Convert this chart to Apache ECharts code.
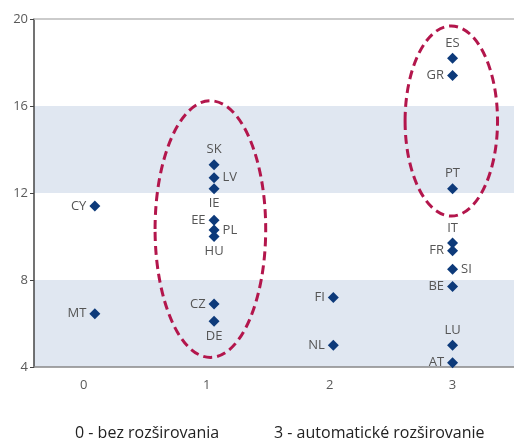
<!DOCTYPE html>
<html>
<head>
<meta charset="utf-8">
<script src="https://cdn.jsdelivr.net/npm/echarts@6/dist/echarts.min.js"></script>
<style>
html, body { margin: 0; padding: 0; background: #fff; }
#chart { width: 514px; height: 443px; }
</style>
</head>
<body>
<div id="chart"></div>
<script>
// krajiny, skupina (x) a hodnota (y)
var names = ['CY', 'MT', 'SK', 'LV', 'IE', 'EE', 'PL', 'HU', 'CZ', 'DE', 'FI', 'NL', 'ES', 'GR', 'PT', 'IT', 'FR', 'SI', 'BE', 'LU', 'AT'];
var xs = [0.09, 0.09, 1.06, 1.06, 1.06, 1.06, 1.06, 1.06, 1.06, 1.06, 2.03, 2.03, 3, 3, 3, 3, 3, 3, 3, 3, 3];
var ys = [11.4, 6.45, 13.3, 12.7, 12.2, 10.75, 10.3, 10.0, 6.9, 6.1, 7.2, 5.0, 18.2, 17.4, 12.2, 9.7, 9.35, 8.5, 7.7, 5.0, 4.2];
var labelPos = ['left', 'left', 'top', 'right', 'bottom', 'left', 'right', 'bottom', 'left', 'bottom', 'left', 'left', 'top', 'left', 'top', 'top', 'left', 'right', 'left', 'top', 'left'];
var xTicks = [0, 1, 2, 3];
// oválne zvýraznenia: [stred x, stred y, polomer x, polomer y]
var ovals = [[1.03, 10.34, 0.45, 5.9], [2.99, 15.31, 0.376, 4.37]];
var legendTexts = ['0 - bez rozširovania', '3 - automatické rozširovanie'];

var points = [];
for (var i = 0; i < names.length; i++) {
	points.push({
		name: names[i],
		value: [xs[i], ys[i]],
		label: { position: labelPos[i] }
	});
}

var font = '"Open Sans", "Noto Sans", sans-serif';

var option = {
	animation: false,
	grid: { left: 34, top: 19, width: 482, height: 348 },
	xAxis: [{
		type: 'value',
		min: -0.405,
		max: 3.5,
		axisLine: { show: true, lineStyle: { color: '#888', width: 1.5 } },
		axisTick: { show: false },
		splitLine: { show: false },
		axisLabel: {
			customValues: xTicks,
			color: '#595959',
			fontSize: 13,
			fontFamily: font,
			margin: 12
		}
	}, {
		type: 'value',
		position: 'top',
		min: -0.405,
		max: 3.5,
		axisLine: { show: true, lineStyle: { color: '#bbb', width: 1.5 } },
		axisTick: { show: false },
		axisLabel: { show: false },
		splitLine: { show: false }
	}],
	yAxis: {
		type: 'value',
		min: 4,
		max: 20,
		interval: 4,
		axisLine: { show: true, onZero: false, lineStyle: { color: '#444', width: 1.5 } },
		axisTick: { show: true, length: 4, lineStyle: { color: '#444' } },
		axisLabel: { color: '#595959', fontSize: 13, fontFamily: font, margin: 6 },
		splitLine: { show: false },
		splitArea: { show: true, areaStyle: { color: ['#e0e7f1', '#ffffff'] } }
	},
	series: [{
		type: 'scatter',
		symbol: 'diamond',
		symbolSize: 11,
		itemStyle: { color: '#0d3a7a', opacity: 1 },
		label: {
			show: true,
			formatter: '{b}',
			color: '#555',
			fontSize: 13,
			fontFamily: font,
			distance: 3
		},
		data: points,
		z: 3
	}, {
		type: 'custom',
		data: ovals,
		clip: false,
		z: 4,
		renderItem: function(params, api) {
			var c = api.coord([api.value(0), api.value(1)]);
			var s = api.size([api.value(2), api.value(3)]);
			return {
				type: 'ellipse',
				shape: { cx: c[0], cy: c[1], rx: s[0], ry: s[1] },
				style: { fill: 'none', stroke: '#b3164c', lineWidth: 3, lineDash: [9, 5] }
			};
		}
	}],
	graphic: [{
		type: 'text',
		left: 75,
		top: 425,
		style: { text: legendTexts[0], fill: '#222', fontSize: 16, fontFamily: font }
	}, {
		type: 'text',
		left: 274,
		top: 425,
		style: { text: legendTexts[1], fill: '#222', fontSize: 16, fontFamily: font }
	}]
};

var chart = echarts.init(document.getElementById('chart'));
chart.setOption(option);
</script>
</body>
</html>
